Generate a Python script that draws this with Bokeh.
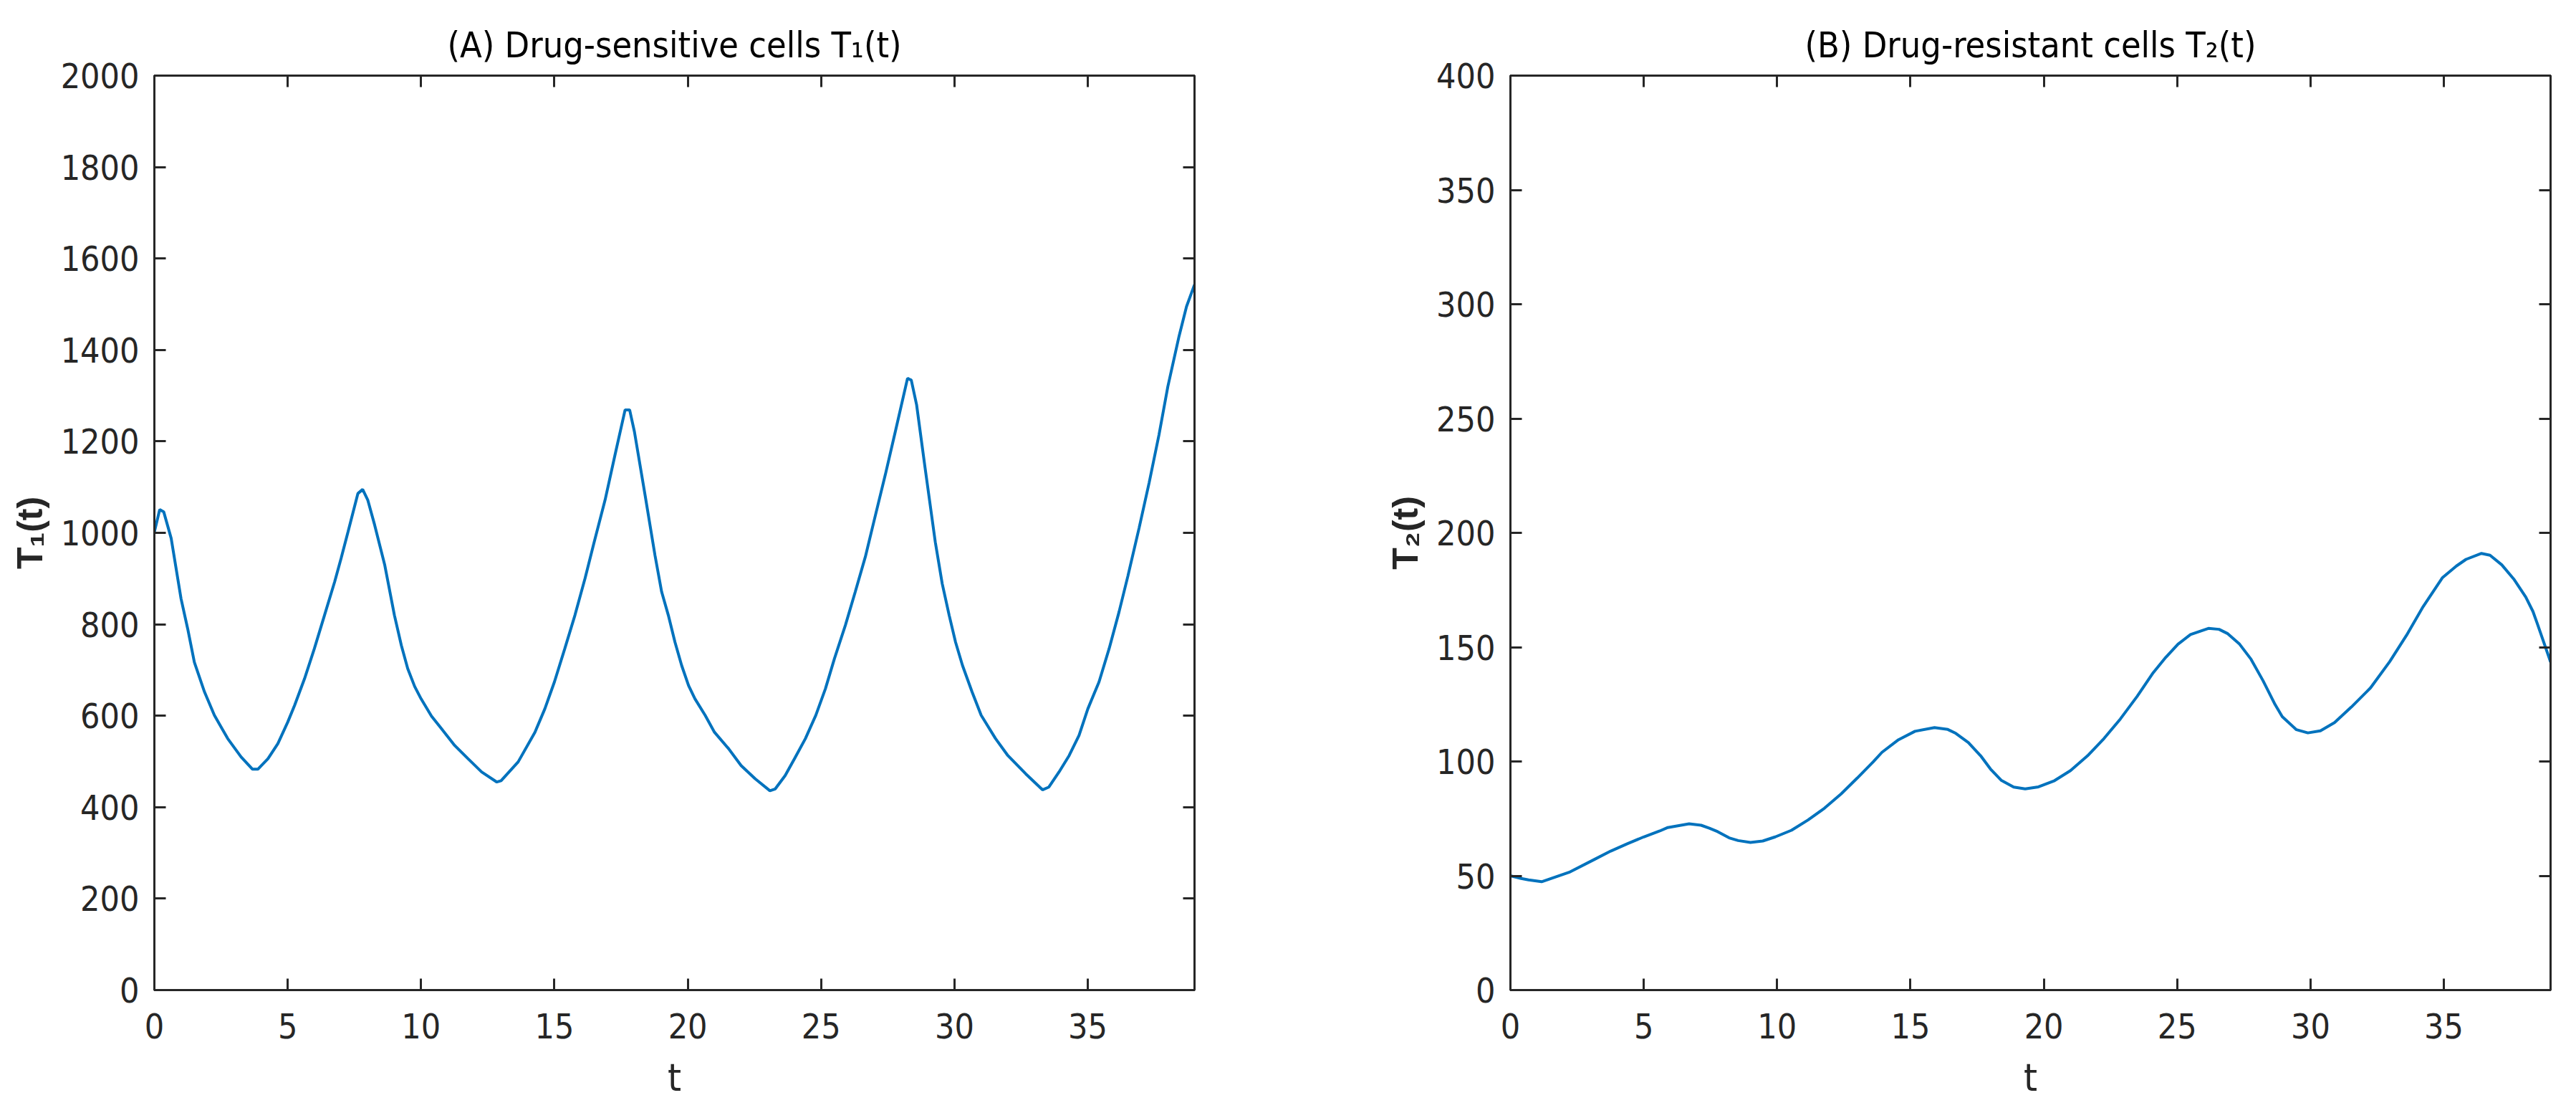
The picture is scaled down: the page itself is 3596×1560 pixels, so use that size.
from bokeh.plotting import figure
from bokeh.layouts import row
from bokeh.models import LinearAxis, Range1d, FixedTicker
from bokeh.embed import file_html
from bokeh.resources import INLINE

# ---------------- data ----------------
t1 = [0, 0.2, 0.35, 0.63, 1.0, 1.25, 1.5, 1.88, 2.25, 2.75, 3.25, 3.68, 3.88, 4.26,
      4.63, 5.0, 5.26, 5.63, 6.0, 6.38, 6.76, 7.0, 7.26, 7.63, 7.81, 8.0, 8.26, 8.64,
      9.0, 9.26, 9.5, 9.76, 10.0, 10.39, 10.76, 11.26, 11.76, 12.27, 12.84, 13.0,
      13.64, 14.27, 14.64, 15.0, 15.39, 15.77, 16.15, 16.5, 16.9, 17.27, 17.65, 17.82,
      18.0, 18.4, 18.77, 19.02, 19.27, 19.52, 19.77, 20.03, 20.27, 20.65, 21.0, 21.53,
      22.0, 22.53, 23.08, 23.28, 23.65, 24.0, 24.41, 24.8, 25.16, 25.5, 25.91, 26.28,
      26.66, 27.0, 27.41, 27.78, 28.24, 28.38, 28.58, 28.9, 29.28, 29.54, 29.8, 30.04,
      30.3, 30.66, 31.0, 31.54, 32.0, 32.67, 33.3, 33.54, 33.92, 34.3, 34.67, 35.0,
      35.42, 35.8, 36.17, 36.5, 36.92, 37.3, 37.67, 38.0, 38.42, 38.7, 39.0]
T1 = [1002, 1051, 1046, 988, 856, 790, 717, 652, 601, 550, 510, 483, 483, 506,
      539, 586, 623, 681, 747, 820, 893, 944, 1002, 1086, 1095, 1072, 1017, 929,
      820, 754, 703, 664, 637, 599, 572, 535, 506, 477, 455, 458,
      499, 564, 615, 674, 747, 820, 901, 982, 1072, 1170, 1269, 1269,
      1221, 1082, 951, 871, 820, 761, 710, 666, 637, 601, 564, 528,
      491, 462, 436, 440, 469, 506, 550, 601, 659, 725, 798, 871,
      948, 1030, 1128, 1221, 1338, 1334, 1280, 1141, 980, 889, 820, 761,
      710, 652, 601, 550, 513, 473, 438, 444, 477, 513, 557, 615,
      674, 747, 827, 905, 1010, 1110, 1215, 1320, 1430, 1495, 1543]

t2 = [0, 0.4, 0.68, 1.17, 2.2, 3.14, 3.76, 4.38, 5.0, 5.6, 5.9, 6.7, 7.15, 7.46,
      7.77, 8.2, 8.54, 9.0, 9.46, 9.93, 10.54, 11.16, 11.78, 12.4, 13.0, 13.6, 13.93,
      14.55, 15.17, 15.9, 16.4, 16.7, 17.17, 17.63, 18.0, 18.4, 18.87, 19.3, 19.8,
      20.4, 21.0, 21.64, 22.26, 22.87, 23.5, 24.1, 24.57, 25.03, 25.5, 26.17, 26.57,
      26.88, 27.34, 27.77, 28.22, 28.67, 28.94, 29.47, 29.9, 30.37, 30.9, 31.53,
      32.25, 32.97, 33.6, 34.22, 34.94, 35.47, 35.83, 36.41, 36.73, 37.17, 37.62,
      38.07, 38.34, 38.5, 39.0]
T2 = [50, 48.8, 48.2, 47.4, 51.5, 57.1, 60.8, 64, 67, 69.6, 71.1, 72.7, 72.1, 70.8,
      69.3, 66.6, 65.4, 64.6, 65.2, 67, 69.9, 74.4, 79.6, 85.8, 92.7, 99.8, 104,
      109.5, 113.2, 114.8, 114.0, 112.3, 108.3, 102.5, 96.7, 91.8, 88.8, 88.0, 88.9,
      91.6, 96.0, 102.5, 110.1, 118.6, 128.5, 138.8, 145.5, 151.3, 155.5, 158.2, 157.8,
      156, 151.3, 144.7, 135.3, 124.9, 119.6, 113.9, 112.5, 113.4, 117.0, 123.8,
      132.2, 143.7, 155.2, 167.7, 180.3, 185.5, 188.4, 191.0, 190.2, 186.0, 179.8,
      171.9, 165.6, 160.4, 143.5]

x_ticks = [0, 5, 10, 15, 20, 25, 30, 35]
y1_ticks = [0, 200, 400, 600, 800, 1000, 1200, 1400, 1600, 1800, 2000]
y2_ticks = [0, 50, 100, 150, 200, 250, 300, 350, 400]

titles = ["(A) Drug-sensitive cells T\u2081(t)", "(B) Drug-resistant cells T\u2082(t)"]
ylabels = ["T\u2081(t)", "T\u2082(t)"]
xlabel = "t"

# ---------------- style ----------------
NARROW = "'Liberation Sans Narrow', 'Arial Narrow', 'DejaVu Sans Condensed', sans-serif"
REGULAR = "'Liberation Sans', Arial, sans-serif"
AX = "#262626"
LINE = "#0072BD"


def make_panel(t, v, ymax, yticks, title, ylabel, borders):
    left, right, top, bottom = borders
    p = figure(frame_width=1452, frame_height=1276,
               x_range=Range1d(0, 39), y_range=Range1d(0, ymax),
               min_border_left=left, min_border_right=right,
               min_border_top=top, min_border_bottom=bottom,
               output_backend="svg", toolbar_location=None, title=title)
    p.line(t, v, line_color=LINE, line_width=4)

    p.background_fill_color = "white"
    p.border_fill_color = "white"
    p.outline_line_color = AX
    p.outline_line_width = 3
    p.xgrid.visible = False
    p.ygrid.visible = False

    p.title.text_font = NARROW
    p.title.text_font_size = "50px"
    p.title.text_font_style = "normal"
    p.title.text_color = "black"
    p.title.align = "center"
    p.title.standoff = 28

    for ax, ticks in ((p.xaxis[0], x_ticks), (p.yaxis[0], yticks)):
        ax.ticker = FixedTicker(ticks=ticks)
        ax.major_tick_in = 16
        ax.major_tick_out = 0
        ax.minor_tick_line_color = None
        ax.major_tick_line_color = AX
        ax.major_tick_line_width = 3
        ax.axis_line_color = AX
        ax.axis_line_width = 3
        ax.major_label_text_font = NARROW
        ax.major_label_text_font_size = "48px"
        ax.major_label_text_color = AX

    p.xaxis.major_label_standoff = 32
    p.yaxis.major_label_standoff = 21

    p.xaxis.axis_label = xlabel
    p.xaxis.axis_label_text_font = NARROW
    p.xaxis.axis_label_text_font_size = "54px"
    p.xaxis.axis_label_text_font_style = "normal"
    p.xaxis.axis_label_text_color = AX
    p.xaxis.axis_label_standoff = 20

    p.yaxis.axis_label = ylabel
    p.yaxis.axis_label_text_font = REGULAR
    p.yaxis.axis_label_text_font_size = "50px"
    p.yaxis.axis_label_text_font_style = "bold"
    p.yaxis.axis_label_text_color = AX
    p.yaxis.axis_label_standoff = 12

    for loc, ticks in (("right", yticks), ("above", x_ticks)):
        ax = LinearAxis(ticker=FixedTicker(ticks=ticks),
                        major_tick_in=16, major_tick_out=0,
                        minor_tick_line_color=None,
                        major_tick_line_color=AX, major_tick_line_width=3,
                        axis_line_color=AX, axis_line_width=3,
                        major_label_text_font_size="0px",
                        major_label_text_color=None,
                        major_label_standoff=0)
        p.add_layout(ax, loc)
    return p


p1 = make_panel(t1, T1, 2000, y1_ticks, titles[0], ylabels[0], (215, 123, 105, 159))
p2 = make_panel(t2, T2, 400, y2_ticks, titles[1], ylabels[1], (318, 16, 105, 159))

layout = row(p1, p2)
open("out.html", "w").write(file_html(layout, INLINE))
